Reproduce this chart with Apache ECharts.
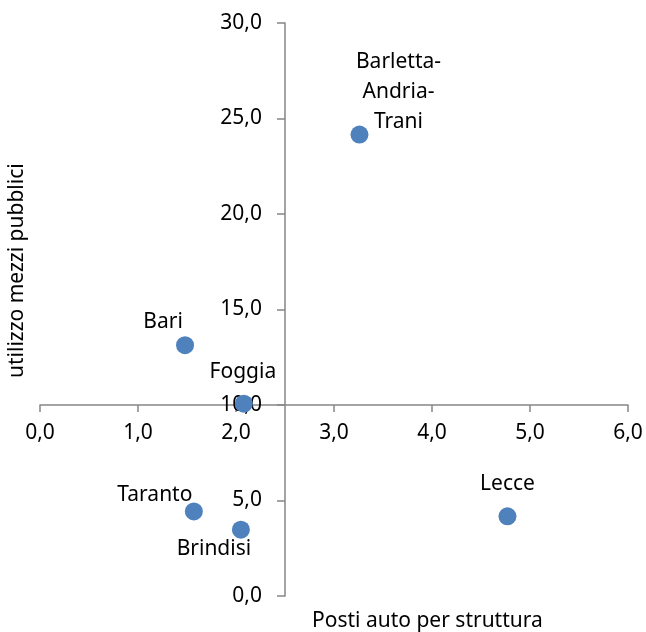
<!DOCTYPE html>
<html>
<head>
<meta charset="utf-8">
<script src="https://cdn.jsdelivr.net/npm/echarts@6/dist/echarts.min.js"></script>
<style>
html,body{margin:0;padding:0;background:#fff;}
#c{width:646px;height:632px;}
</style>
</head>
<body>
<div id="c"></div>
<script>
// ---- data ----
const provinces = ['Barletta-Andria-Trani', 'Bari', 'Foggia', 'Taranto', 'Brindisi', 'Lecce'];
const postiAuto = [3.26, 1.48, 2.08, 1.57, 2.05, 4.77];
const mezziPubblici = [24.16, 13.13, 10.07, 4.43, 3.47, 4.17];
const xTitle = 'Posti auto per struttura';
const yTitle = 'utilizzo mezzi pubblici';

// ---- styles ----
const FONT = 'Noto Sans';
const FS = 21;
const labelText = {
  'Barletta-Andria-Trani': 'Barletta-\nAndria-\nTrani'
};
const labelOffset = {
  'Barletta-Andria-Trani': [39, -43],
  'Bari': [-22, -23],
  'Foggia': [-1, -32],
  'Taranto': [-39, -16],
  'Brindisi': [-27, 19],
  'Lecce': [0, -32]
};
const fmt = v => v.toFixed(1).replace('.', ',');
const axisColor = '#868686';

const chart = echarts.init(document.getElementById('c'), null, {renderer: 'canvas'});
const grid = {left: 40, right: 18, top: 23, bottom: 36, containLabel: false, outerBoundsMode: 'none'};

function buildOption(xOff, yOff) {
  return {
    animation: false,
    backgroundColor: '#fff',
    textStyle: {fontFamily: FONT},
    grid: grid,
    xAxis: {
      type: 'value', min: 0, max: 6, interval: 1,
      position: 'bottom', offset: xOff,
      axisLine: {onZero: false, lineStyle: {color: axisColor, width: 1.5}},
      axisTick: {show: true, length: 7, lineStyle: {color: axisColor, width: 1.5}},
      axisLabel: {formatter: fmt, color: '#000', fontSize: FS, fontFamily: FONT, margin: 18},
      splitLine: {show: false}
    },
    yAxis: {
      type: 'value', min: 0, max: 30, interval: 5,
      position: 'left', offset: yOff,
      axisLine: {show: true, onZero: false, lineStyle: {color: axisColor, width: 1.5}},
      axisTick: {show: true, length: 8, lineStyle: {color: axisColor, width: 1.5}},
      axisLabel: {formatter: fmt, color: '#000', fontSize: FS, fontFamily: FONT, margin: 23},
      splitLine: {show: false}
    },
    graphic: [
      {type: 'text', left: 312, top: 611,
       style: {text: xTitle, fontSize: FS, fontFamily: FONT, fill: '#000'}},
      {type: 'text', x: 7, y: 378, rotation: Math.PI / 2,
       style: {text: yTitle, fontSize: FS, fontFamily: FONT, fill: '#000', align: 'left', verticalAlign: 'top'}}
    ],
    series: [{
      type: 'scatter',
      symbol: 'circle',
      symbolSize: 18,
      itemStyle: {color: '#4F81BD', opacity: 1},
      z: 3,
      data: provinces.map((p, i) => ({
        value: [postiAuto[i], mezziPubblici[i]],
        name: p,
        label: {
          show: true,
          position: ['50%', '50%'],
          offset: labelOffset[p],
          formatter: labelText[p] || p,
          color: '#000',
          opacity: 1,
          fontSize: FS,
          lineHeight: 30,
          fontFamily: FONT,
          align: 'center',
          verticalAlign: 'middle'
        }
      }))
    }]
  };
}

chart.setOption(buildOption(0, 0));
const cross = chart.convertToPixel({gridIndex: 0}, [2.5, 10]);
const H = 632;
const xOff = -((H - grid.bottom) - cross[1]);
const yOff = -(cross[0] - grid.left);
chart.setOption(buildOption(xOff, yOff));
</script>
</body>
</html>
